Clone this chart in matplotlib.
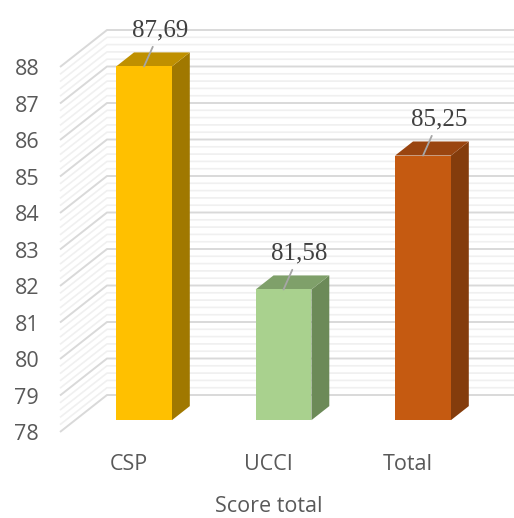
import numpy as np
import matplotlib.pyplot as plt
from matplotlib.patches import Polygon

categories = ['CSP', 'UCCI', 'Total']
scores = [87.69, 81.58, 85.25]
labels = ['87,69', '81,58', '85,25']
front_col = ['#FFC000', '#A9D18E', '#C55A11']
top_col = ['#BF9000', '#7FA06A', '#9A4510']
side_col = ['#A07800', '#6C8A58', '#843C0C']

ymin, ymax = 78, 88

fig = plt.figure(figsize=(5.14, 5.18), dpi=100)
W, H = 514, 518
# front plane of the 3D box, in pixels
ax = fig.add_axes([60 / W, (H - 432) / H, (467 - 60) / W, (432 - 67) / H])
xlo, xhi = (60 - 129) / 139.5, (467 - 129) / 139.5
ax.set_xlim(xlo, xhi)
ax.set_ylim(ymin, ymax)

# depth offset (one full depth) in data units
DX, DY = 47 / 139.5, 37 / 36.5


def proj(x, v, d):
    return (x + d * DX, v + d * DY)


# walls gridlines
for v in np.arange(ymin, ymax + 0.001, 0.2):
    major = abs(v - round(v)) < 1e-6
    c = '#D9D9D9' if major else '#F0F0F0'
    lw = 1.4 if major else 1.2
    z = 1 if major else 0.5
    p0 = proj(xlo, v, 0)
    p1 = proj(xlo, v, 1)
    p2 = proj(xhi, v, 1)
    ax.plot([p0[0], p1[0], p2[0]], [p0[1], p1[1], p2[1]], color=c, lw=lw,
            clip_on=False, zorder=z, solid_capstyle='butt')

# bars
d0, dd, hw = 0.32, 0.38, 0.20
for i, v in enumerate(scores):
    def P(x, y, d):
        return proj(i + x, y, d)
    front = [P(-hw, ymin, d0), P(hw, ymin, d0), P(hw, v, d0), P(-hw, v, d0)]
    side = [P(hw, ymin, d0), P(hw, ymin, d0 + dd), P(hw, v, d0 + dd), P(hw, v, d0)]
    top = [P(-hw, v, d0), P(hw, v, d0), P(hw, v, d0 + dd), P(-hw, v, d0 + dd)]
    ax.add_patch(Polygon(side, closed=True, fc=side_col[i], ec='none', zorder=3, clip_on=False))
    ax.add_patch(Polygon(top, closed=True, fc=top_col[i], ec='none', zorder=3, clip_on=False))
    ax.add_patch(Polygon(front, closed=True, fc=front_col[i], ec='none', zorder=4, clip_on=False))
    ax.annotate(labels[i], xy=P(0, v, d0), xytext=(11.5, 18), textcoords='offset points',
                ha='center', va='bottom', family='Liberation Serif', fontsize=18,
                color='#404040', annotation_clip=False, zorder=6,
                arrowprops=dict(arrowstyle='-', color='#A6A6A6', lw=1.3,
                                shrinkA=2, shrinkB=0))

for s in ax.spines.values():
    s.set_visible(False)
ax.set_xticks(range(len(categories)), categories)
ax.set_yticks(range(ymin, ymax + 1))
ax.tick_params(axis='both', length=0, labelsize=15.5, labelcolor='#595959')
ax.tick_params(axis='y', pad=15)
ax.tick_params(axis='x', pad=16)
for t in ax.get_xticklabels() + ax.get_yticklabels():
    t.set_family('Open Sans')
ax.set_xlabel('Score total', family='Open Sans', fontsize=15.5, color='#595959', va='center')
ax.xaxis.set_label_coords((269 - 60) / (467 - 60), -(506 - 432) / (432 - 67))

fig.savefig('out.png', dpi=100)
